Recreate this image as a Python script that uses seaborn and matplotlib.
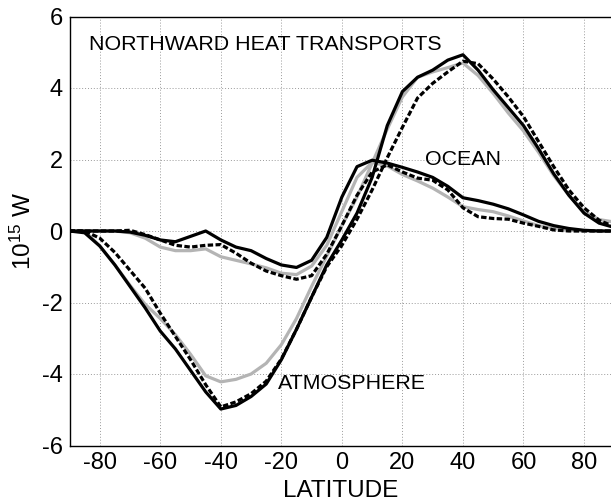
import numpy as np
import pandas as pd
import matplotlib
matplotlib.use("Agg")
import matplotlib.pyplot as plt
import seaborn as sns

# Latitude grid (degrees)
lat = [-90, -85, -80, -75, -70, -65, -60, -55, -50, -45, -40, -35, -30, -25, -20,
       -15, -10, -5, 0, 5, 10, 15, 20, 25, 30, 35, 40, 45, 50, 55, 60, 65, 70,
       75, 80, 85, 90]

# Atmospheric northward heat transport (10^15 W)
atm_black = [0, -0.05, -0.42, -0.95, -1.55, -2.15, -2.8, -3.3, -3.9, -4.5, -4.98,
             -4.88, -4.63, -4.28, -3.6, -2.75, -1.85, -0.95, -0.25, 0.5, 1.5,
             2.95, 3.9, 4.3, 4.5, 4.78, 4.93, 4.5, 3.95, 3.45, 2.95, 2.3, 1.6,
             1.0, 0.5, 0.22, 0.1]
atm_gray = [0, 0, -0.42, -0.95, -1.52, -2.05, -2.45, -2.9, -3.45, -4.05, -4.22,
            -4.15, -4.0, -3.7, -3.18, -2.45, -1.55, -0.7, 0.15, 0.95, 1.9,
            2.85, 3.75, 4.3, 4.45, 4.57, 4.7, 4.35, 3.85, 3.3, 2.8, 2.2, 1.55,
            1.0, 0.55, 0.32, 0.25]
atm_dash = [0, 0, -0.2, -0.6, -1.1, -1.6, -2.3, -2.95, -3.6, -4.3, -4.92,
            -4.78, -4.55, -4.2, -3.58, -2.75, -1.85, -1.0, -0.4, 0.33, 1.15,
            2.05, 2.9, 3.72, 4.13, 4.45, 4.75, 4.68, 4.25, 3.75, 3.2, 2.5, 1.8,
            1.15, 0.65, 0.3, 0.12]

# Oceanic northward heat transport (10^15 W)
ocn_black = [0, 0, 0, 0, -0.03, -0.12, -0.25, -0.3, -0.15, 0.0, -0.25, -0.45,
             -0.55, -0.77, -0.95, -1.02, -0.82, -0.18, 0.95, 1.8, 1.98, 1.9,
             1.78, 1.65, 1.5, 1.25, 0.93, 0.85, 0.75, 0.62, 0.45, 0.27, 0.15,
             0.07, 0.02, 0, 0]
ocn_gray = [0, 0, 0, 0, -0.05, -0.2, -0.45, -0.55, -0.55, -0.5, -0.72, -0.82,
            -0.92, -1.03, -1.18, -1.22, -0.98, -0.4, 0.55, 1.5, 1.92, 1.82,
            1.58, 1.4, 1.2, 0.95, 0.68, 0.6, 0.54, 0.42, 0.28, 0.15, 0.07,
            0.02, 0, 0, 0]
ocn_dash = [0, 0, 0, 0, 0.02, -0.1, -0.25, -0.4, -0.45, -0.4, -0.38, -0.62,
            -0.9, -1.12, -1.25, -1.35, -1.25, -0.65, 0.15, 1.0, 1.65, 1.85,
            1.65, 1.48, 1.42, 1.15, 0.65, 0.4, 0.35, 0.33, 0.22, 0.13, 0.03,
            0, 0, 0, 0]

yticks = [-6, -4, -2, 0, 2, 4, 6]
xticks = [-80, -60, -40, -20, 0, 20, 40, 60, 80]

sns.set_style("white")
plt.rcParams["font.family"] = ["Liberation Sans", "DejaVu Sans"]
plt.rcParams["mathtext.default"] = "regular"
plt.rcParams["axes.unicode_minus"] = False
plt.rcParams["text.color"] = "black"
plt.rcParams["axes.labelcolor"] = "black"
plt.rcParams["xtick.color"] = "black"
plt.rcParams["ytick.color"] = "black"
plt.rcParams["lines.solid_joinstyle"] = "round"
plt.rcParams["lines.dash_joinstyle"] = "round"

fig = plt.figure(figsize=(6.11, 5.01), dpi=100)
ax = fig.add_axes([69.5 / 611, 1 - 445.5 / 501, 1 - 69.5 / 611, (445.5 - 16.5) / 501])

gray = "#b4b4b4"
lw = 2.3
dash = (0, (1.7, 0.75))

series = [
    (atm_gray, gray, "-"),
    (ocn_gray, gray, "-"),
    (atm_dash, "black", dash),
    (ocn_dash, "black", dash),
    (atm_black, "black", "-"),
    (ocn_black, "black", "-"),
]
for vals, col, ls in series:
    df = pd.DataFrame({"lat": lat, "flux": vals})
    sns.lineplot(data=df, x="lat", y="flux", ax=ax, color=col, linewidth=lw,
                 linestyle=ls, sort=False, estimator=None)

ax.set_xlim(-90, (611 - 100) / 3.025 - 80)
ax.set_ylim(-6, 6)
ax.set_xticks(xticks)
ax.set_yticks(yticks)
ax.tick_params(direction="in", length=4, width=0.8, labelsize=17, pad=5,
               colors="black", labelcolor="black")
ax.grid(True, color="#9a9a9a", linestyle=(0, (1, 2)), linewidth=0.7)
for side in ["left", "bottom", "top"]:
    ax.spines[side].set_color("black")
    ax.spines[side].set_linewidth(1.0)
ax.spines["right"].set_visible(False)

ax.set_xlabel("LATITUDE", fontsize=17.5, labelpad=4, color="black")
ax.set_ylabel("$10^{15}$ W", fontsize=17.5, labelpad=4, color="black")

ax.text(-83.6, 5.23, "NORTHWARD HEAT TRANSPORTS", fontsize=15.4,
        ha="left", va="center", color="black")
ax.text(27.4, 2.0, "OCEAN", fontsize=15.4, ha="left", va="center",
        color="black")
ax.text(-21.05, -4.27, "ATMOSPHERE", fontsize=15.4, ha="left", va="center",
        color="black")

fig.savefig("out.png", dpi=100)
